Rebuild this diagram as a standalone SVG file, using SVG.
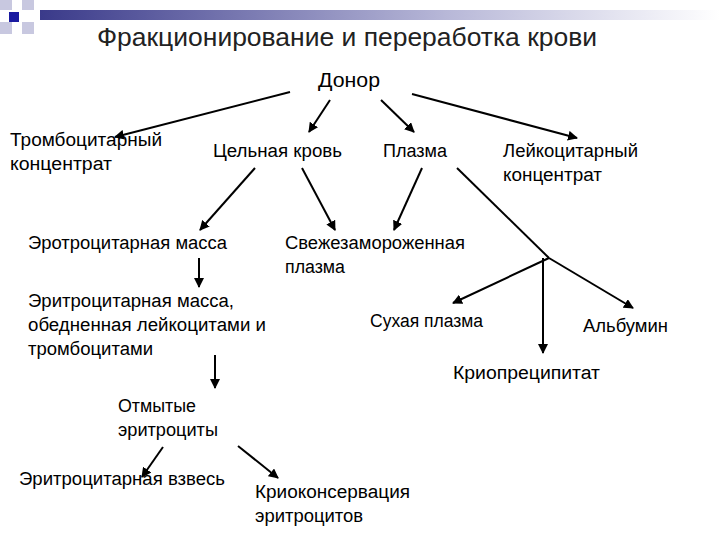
<svg xmlns="http://www.w3.org/2000/svg" width="720" height="540" viewBox="0 0 720 540">
<style>
text{font-family:"Liberation Sans",Arial,sans-serif;font-size:18px;fill:#000}
.t{font-size:26px;fill:#222}
.d{font-size:21px}
line{stroke:#000;stroke-width:2}
</style>
<defs>
<marker id="a" viewBox="0 0 10 10" refX="9" refY="5" markerWidth="5" markerHeight="5" orient="auto"><path d="M0,0L10,5L0,10z" fill="#000"/></marker>
<linearGradient id="g" x1="0" x2="1"><stop offset="0" stop-color="#3a3a8a"/><stop offset="0.6" stop-color="#b8b8d8"/><stop offset="1" stop-color="#fff"/></linearGradient>
</defs>
<rect width="720" height="540" fill="#fff"/>
<g id="decor">
<rect x="40" y="10" width="680" height="10" fill="url(#g)"/>
<rect x="0" y="0" width="12" height="10" fill="#c8c8e0"/>
<rect x="22" y="0" width="12" height="10" fill="#c8c8e0"/>
<rect x="0" y="22" width="12" height="12" fill="#c8c8e0"/>
<rect x="22" y="22" width="12" height="12" fill="#c8c8e0"/>
<rect x="9" y="12" width="10" height="10" fill="#1a1aa0"/>
</g>
<text class="t" x="97" y="46" textLength="500" lengthAdjust="spacingAndGlyphs">Фракционирование и переработка крови</text>
<g id="connectors">
<line x1="290" y1="92" x2="115" y2="137" marker-end="url(#a)"/>
<line x1="330" y1="100" x2="309" y2="132" marker-end="url(#a)"/>
<line x1="381" y1="100" x2="414" y2="132" marker-end="url(#a)"/>
<line x1="412" y1="94" x2="577" y2="138" marker-end="url(#a)"/>
<line x1="255" y1="168" x2="200" y2="230" marker-end="url(#a)"/>
<line x1="302" y1="168" x2="335" y2="230" marker-end="url(#a)"/>
<line x1="422" y1="168" x2="394" y2="230" marker-end="url(#a)"/>
<line x1="457" y1="168" x2="549" y2="258"/>
<line x1="549" y1="258" x2="453" y2="303" marker-end="url(#a)"/>
<line x1="543" y1="258" x2="543" y2="353" marker-end="url(#a)"/>
<line x1="549" y1="258" x2="633" y2="308" marker-end="url(#a)"/>
<line x1="199" y1="258" x2="199" y2="287" marker-end="url(#a)"/>
<line x1="215" y1="355" x2="215" y2="388" marker-end="url(#a)"/>
<line x1="163" y1="447" x2="142" y2="477" marker-end="url(#a)"/>
<line x1="238" y1="446" x2="278" y2="478" marker-end="url(#a)"/>
</g>
<g lengthAdjust="spacingAndGlyphs">
<g id="donor"><text class="d" x="318" y="87" textLength="62" lengthAdjust="spacingAndGlyphs">Донор</text></g>
<g id="tromb"><text x="10" y="146" textLength="152" lengthAdjust="spacingAndGlyphs">Тромбоцитарный</text><text x="10" y="170" textLength="102" lengthAdjust="spacingAndGlyphs">концентрат</text></g>
<g id="whole"><text x="213" y="157" textLength="129" lengthAdjust="spacingAndGlyphs">Цельная кровь</text></g>
<g id="plasma"><text x="383" y="157" textLength="64" lengthAdjust="spacingAndGlyphs">Плазма</text></g>
<g id="leuko"><text x="503" y="157" textLength="135" lengthAdjust="spacingAndGlyphs">Лейкоцитарный</text><text x="503" y="181" textLength="99" lengthAdjust="spacingAndGlyphs">концентрат</text></g>
<g id="erot"><text x="28" y="249" textLength="199" lengthAdjust="spacingAndGlyphs">Эротроцитарная масса</text></g>
<g id="fresh"><text x="285" y="249" textLength="180" lengthAdjust="spacingAndGlyphs">Свежезамороженная</text><text x="285" y="273" textLength="60" lengthAdjust="spacingAndGlyphs">плазма</text></g>
<g id="erit"><text x="28" y="307" textLength="206" lengthAdjust="spacingAndGlyphs">Эритроцитарная масса,</text><text x="28" y="331" textLength="238" lengthAdjust="spacingAndGlyphs">обедненная лейкоцитами и</text><text x="28" y="355" textLength="125" lengthAdjust="spacingAndGlyphs">тромбоцитами</text></g>
<g id="washed"><text x="118" y="412" textLength="78" lengthAdjust="spacingAndGlyphs">Отмытые</text><text x="118" y="436" textLength="100" lengthAdjust="spacingAndGlyphs">эритроциты</text></g>
<g id="susp"><text x="19" y="485" textLength="206" lengthAdjust="spacingAndGlyphs">Эритроцитарная взвесь</text></g>
<g id="cryo"><text x="255" y="498" textLength="155" lengthAdjust="spacingAndGlyphs">Криоконсервация</text><text x="255" y="522" textLength="108" lengthAdjust="spacingAndGlyphs">эритроцитов</text></g>
<g id="dry"><text x="370" y="327" textLength="113" lengthAdjust="spacingAndGlyphs">Сухая плазма</text></g>
<g id="alb"><text x="583" y="332" textLength="85" lengthAdjust="spacingAndGlyphs">Альбумин</text></g>
<g id="cryop"><text x="453" y="379" textLength="147" lengthAdjust="spacingAndGlyphs">Криопреципитат</text></g>
</g>
</svg>
